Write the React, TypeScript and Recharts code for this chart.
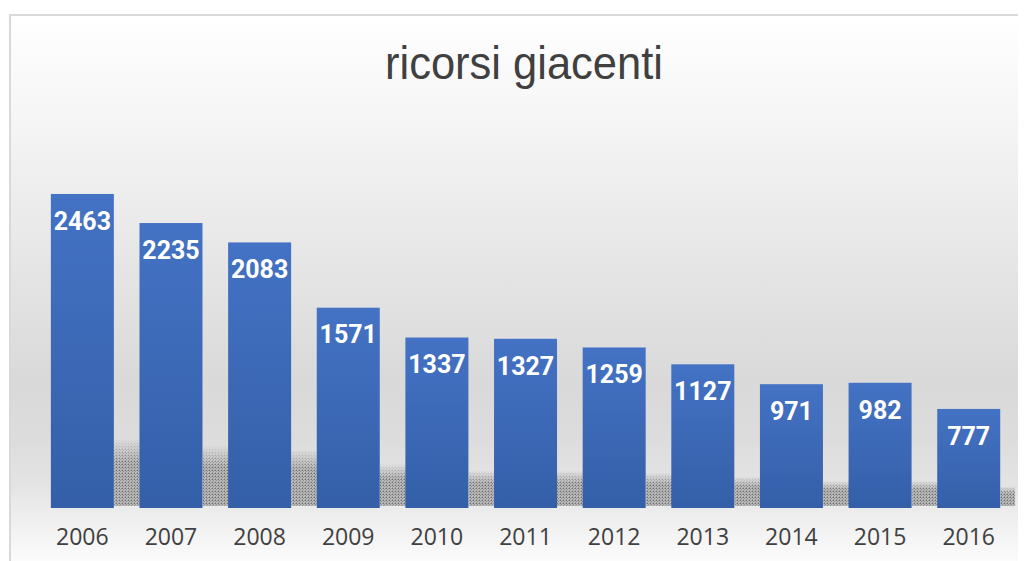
import React from "react";
import { BarChart, Bar, XAxis, YAxis, LabelList } from "recharts";

const years = ["2006", "2007", "2008", "2009", "2010", "2011", "2012", "2013", "2014", "2015", "2016"];
const pending = [2463, 2235, 2083, 1571, 1337, 1327, 1259, 1127, 971, 982, 777];
const title = "ricorsi giacenti";

const data = years.map((y, i) => ({ year: y, value: pending[i] }));

const BarShape = (props: any) => {
  const { x, y, width, height, index } = props;
  if (height == null || height <= 0) return null;
  const sh = height * 0.22;
  const gap = index === years.length - 1 ? width * 0.24 : width * 0.41 + 2;
  return (
    <g>
      <rect
        x={x + width}
        y={y + height - sh}
        width={gap}
        height={sh - 2}
        fill="url(#dots)"
        mask="url(#fade)"
      />
      <rect x={x} y={y} width={width} height={height} fill="url(#barGrad)" />
    </g>
  );
};

export default function App() {
  return (
    <div style={{ position: "relative", width: 1018, height: 553, overflow: "hidden" }}>
      <div
        style={{
          position: "absolute",
          left: 1,
          top: 6,
          width: 1100,
          height: 560,
          boxSizing: "border-box",
          borderLeft: "2px solid #d9d9d9",
          borderTop: "2px solid #d9d9d9",
          background:
            "linear-gradient(to bottom, #ffffff 0px, #f7f7f7 86px, #d9d9d9 366px, #dcdcdc 420px, #e4e4e4 470px, #eeeeee 500px, #fcfcfc 547px)",
        }}
      />
      <svg
        width={1018}
        height={553}
        style={{ position: "absolute", left: 0, top: 0 }}
      >
        <text
          x={516}
          y={71}
          textAnchor="middle"
          fontFamily="'Liberation Sans', Arial, sans-serif"
          fontSize={46}
          textLength={278}
          lengthAdjust="spacingAndGlyphs"
          fill="#404040"
        >
          {title}
        </text>
      </svg>
      <div style={{ position: "absolute", left: 0, top: 0 }}>
        <BarChart
          width={1018}
          height={553}
          data={data}
          margin={{ top: 117.5, right: 13, bottom: 23, left: 30 }}
          barCategoryGap="14.5%"
        >
          <defs>
            <linearGradient id="barGrad" x1="0" y1="0" x2="0" y2="1">
              <stop offset="0%" stopColor="#4472C4" />
              <stop offset="100%" stopColor="#345FA8" />
            </linearGradient>
            <pattern id="dots" width="3" height="3" patternUnits="userSpaceOnUse">
              <rect width="3" height="3" fill="#bababa" />
              <rect x="0" y="0" width="1" height="1" fill="#6e6e6e" />
              <rect x="1" y="1" width="1" height="1" fill="#8c8c8c" />
              <rect x="2" y="0" width="1" height="1" fill="#9a9a9a" />
              <rect x="0" y="2" width="1" height="1" fill="#9a9a9a" />
            </pattern>
            <linearGradient id="fadeGrad" x1="0" y1="0" x2="0" y2="1">
              <stop offset="0%" stopColor="#000" />
              <stop offset="35%" stopColor="#fff" />
              <stop offset="100%" stopColor="#fff" />
            </linearGradient>
            <mask id="fade" maskContentUnits="objectBoundingBox">
              <rect x="0" y="0" width="1" height="1" fill="url(#fadeGrad)" />
            </mask>
          </defs>
          <XAxis
            dataKey="year"
            axisLine={false}
            tickLine={false}
            tickSize={0}
            tickMargin={21}
            height={30}
            interval={0}
            tick={{ fill: "#404040", fontSize: 23, fontFamily: "'Open Sans', sans-serif" }}
          />
          <YAxis hide domain={[0, 3000]} />
          <Bar dataKey="value" shape={BarShape} isAnimationActive={false}>
            <LabelList
              dataKey="value"
              position="insideTop"
              offset={18}
              fill="#ffffff"
              fontSize={25}
              fontWeight="bold"
              fontFamily="Roboto, sans-serif"
            />
          </Bar>
        </BarChart>
      </div>
    </div>
  );
}
